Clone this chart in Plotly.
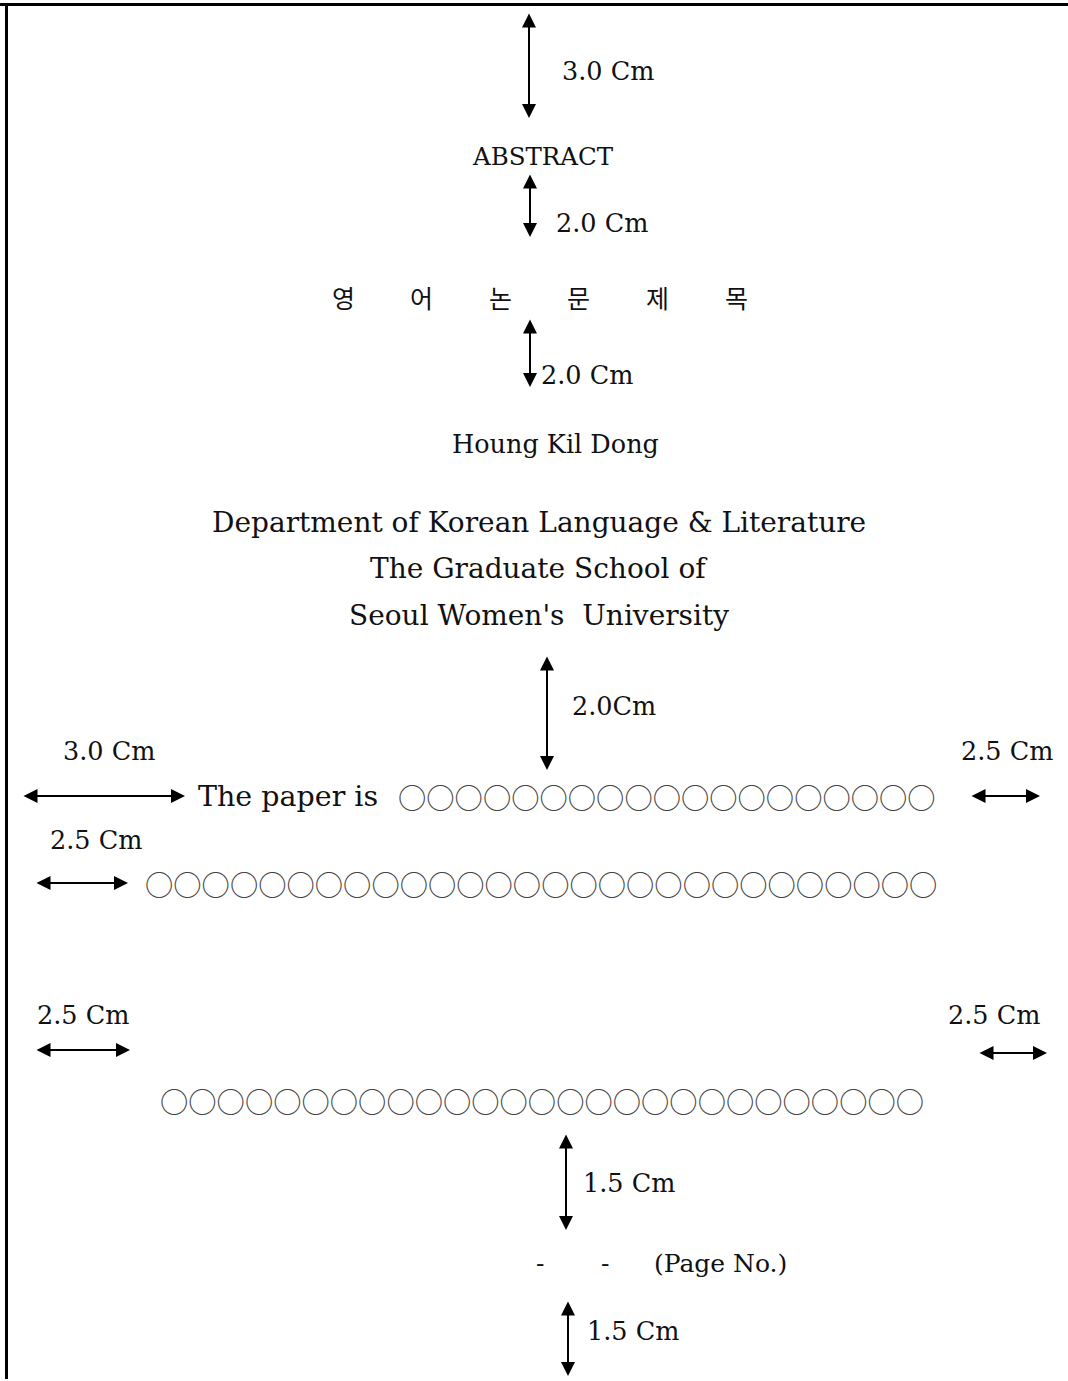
import plotly.graph_objects as go

W, H = 1068, 1381

# ---- content ----
heading = "ABSTRACT"
title_chars = ["영", "어", "논", "문", "제", "목"]
author = "Houng Kil Dong"
affiliation = ["Department of Korean Language & Literature",
               "The Graduate School of",
               "Seoul Women's  University"]
body_lead = "The paper is"
circle_counts = [19, 28, 27]
page_dashes = ["-", "-"]
page_no = "(Page No.)"
vertical_gap_labels = ["3.0 Cm", "2.0 Cm", "2.0 Cm", "2.0Cm", "1.5 Cm", "1.5 Cm"]
side_gap_labels = ["3.0 Cm", "2.5 Cm", "2.5 Cm", "2.5 Cm", "2.5 Cm"]

# ---- layout (pixel positions) ----
SERIF = "DejaVu Serif"
CJK = "Noto Sans CJK KR"
INK = "black"

fig = go.Figure()

ann = []

def text(t, x, y, size, anchor="center", family=SERIF, color="#111"):
    ann.append(dict(text=t, x=x, y=y, xref="x", yref="y", showarrow=False,
                    xanchor=anchor, yanchor="middle",
                    font=dict(family=family, size=size, color=color)))

def arrow(x0, y0, x1, y1, width=2, size=1.4):
    ann.append(dict(text="", x=x1, y=y1, ax=x0, ay=y0, xref="x", yref="y",
                    axref="x", ayref="y", showarrow=True, arrowhead=2,
                    startarrowhead=2, arrowside="end+start", arrowwidth=width,
                    arrowsize=size, startarrowsize=size, arrowcolor=INK,
                    standoff=0, startstandoff=0))

# vertical dimension arrows
v_arrows = [(529, 12, 118, 560, 71), (530, 173, 237, 554, 223),
            (530, 318, 387, 539, 375), (547, 655, 770, 570, 706),
            (566, 1133, 1230, 581, 1183), (568, 1300, 1376, 585, 1331)]
for (x, y0, y1, lx, ly), lab in zip(v_arrows, vertical_gap_labels):
    arrow(x, y0, x, y1)
    text(lab, lx, ly, 25.5, anchor="left")

# horizontal dimension arrows
h_arrows = [(22, 185, 796), (970, 1040, 796), (35, 128, 883),
            (35, 130, 1050), (978, 1047, 1053)]
for x0, x1, y in h_arrows:
    arrow(x0, y, x1, y)

side_pos = [(109, 751), (1007, 751), (96, 840), (83, 1015), (994, 1015)]
for (x, y), lab in zip(side_pos, side_gap_labels):
    text(lab, x, y, 25.5)

# headings
text(heading, 543, 156, 24.5)
for i, ch in enumerate(title_chars):
    text(ch, 343 + i * 78.6, 297, 25, family=CJK)
text(author, 555, 444, 25.5)
for i, line in enumerate(affiliation):
    text(line, 539, 522 + i * 46.5, 28)

# body lines
text(body_lead, 196, 796, 28.5, anchor="left")
circle_rows = [(396, 796), (143, 883), (158, 1100)]
for (x, y), n in zip(circle_rows, circle_counts):
    text("○" * n, x, y, 28.3, anchor="left", family=CJK, color="#444")

# page number
for x, d in zip([540, 605], page_dashes):
    text(d, x, 1263, 25)
text(page_no, 652, 1263, 25, anchor="left")

# page border (top and left edges)
shapes = [dict(type="line", xref="x", yref="y", x0=0, x1=W, y0=4.5, y1=4.5,
               line=dict(color=INK, width=3)),
          dict(type="line", xref="x", yref="y", x0=6.5, x1=6.5, y0=3, y1=H,
               line=dict(color=INK, width=3))]

fig.update_layout(
    width=W, height=H - 2, margin=dict(l=0, r=0, t=0, b=0),
    paper_bgcolor="white", plot_bgcolor="white",
    xaxis=dict(range=[0, W], visible=False, fixedrange=True),
    yaxis=dict(range=[H - 2, 0], visible=False, fixedrange=True),
    annotations=ann, shapes=shapes, showlegend=False,
)
css = ("var s=document.createElement('style');"
       "s.textContent='html,body{margin:0;padding:0;overflow:hidden}"
       "::-webkit-scrollbar{display:none;width:0;height:0}';"
       "document.head.appendChild(s);")
fig.write_html("out.html", config={"displayModeBar": False}, post_script=css)
